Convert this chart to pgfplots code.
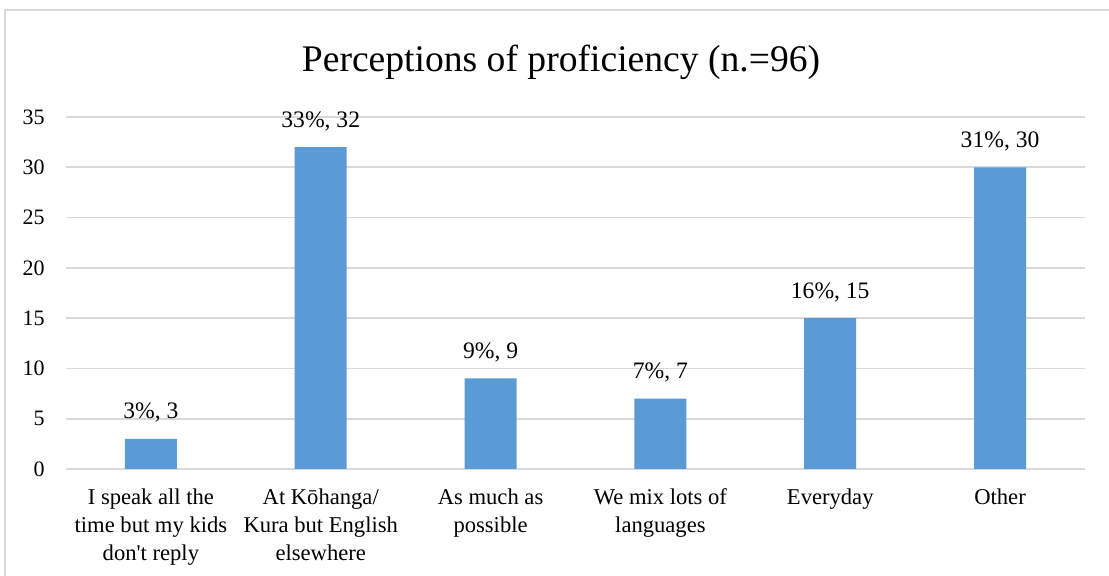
\documentclass[border=0pt]{standalone}
\usepackage{fontspec}
\setmainfont{Liberation Serif}
\usepackage{pgfplots}
\usepackage{pgfplotstable}
\pgfplotsset{compat=1.18}

\definecolor{barblue}{HTML}{5B9BD5}
\definecolor{gridgray}{HTML}{D9D9D9}

\pgfplotstableread{
x  count  label
0  3      {3\%, 3}
1  32     {33\%, 32}
2  9      {9\%, 9}
3  7      {7\%, 7}
4  15     {16\%, 15}
5  30     {31\%, 30}
}\profdata

\begin{document}
\begin{tikzpicture}[x=1pt,y=1pt]
\useasboundingbox (0,0) rectangle (554.5,288);
% chart frame (only left and top edges are visible)
\draw[gridgray, line width=1pt] (2.5,0) -- (2.5,283) -- (554.5,283);
\node[font=\fontsize{18.8}{22}\selectfont] at (280.5,257) {Perceptions of proficiency (n.=96)};
\begin{axis}[
    at={(33pt,53.5pt)}, anchor=south west,
    scale only axis,
    width=509.5pt, height=176pt,
    xmin=-0.5, xmax=5.5,
    ymin=0, ymax=35,
    ytick={0,5,...,35},
    xtick=data,
    xticklabels={{I speak all the\\time but my kids\\don\textquotesingle t reply},
                 {At Kōhanga/\\Kura but English\\elsewhere},
                 {As much as\\possible},
                 {We mix lots of\\languages},
                 {Everyday},
                 {Other}},
    axis x line*=bottom,
    axis y line*=left,
    y axis line style={draw=none},
    x axis line style={gridgray, line width=1.2pt},
    ymajorgrids,
    grid style={gridgray, line width=0.8pt},
    major tick length=0pt,
    tick style={draw=none},
    /pgf/number format/assume math mode=true,
    yticklabel style={font=\fontsize{11}{13}\selectfont, anchor=east, inner sep=0pt, xshift=-10.5pt},
    xticklabel style={font=\fontsize{11.3}{14}\selectfont, align=center, anchor=north, inner sep=0pt, yshift=-9.5pt},
    clip=false,
]
\addplot[ybar, bar width=26pt, fill=barblue, draw=none,
    point meta=explicit symbolic,
    nodes near coords,
    nodes near coords style={font=\fontsize{11.8}{13}\selectfont, anchor=base, yshift=10pt, inner sep=0pt}]
  table[x=x, y=count, meta=label] {\profdata};
\end{axis}
\end{tikzpicture}
\end{document}
